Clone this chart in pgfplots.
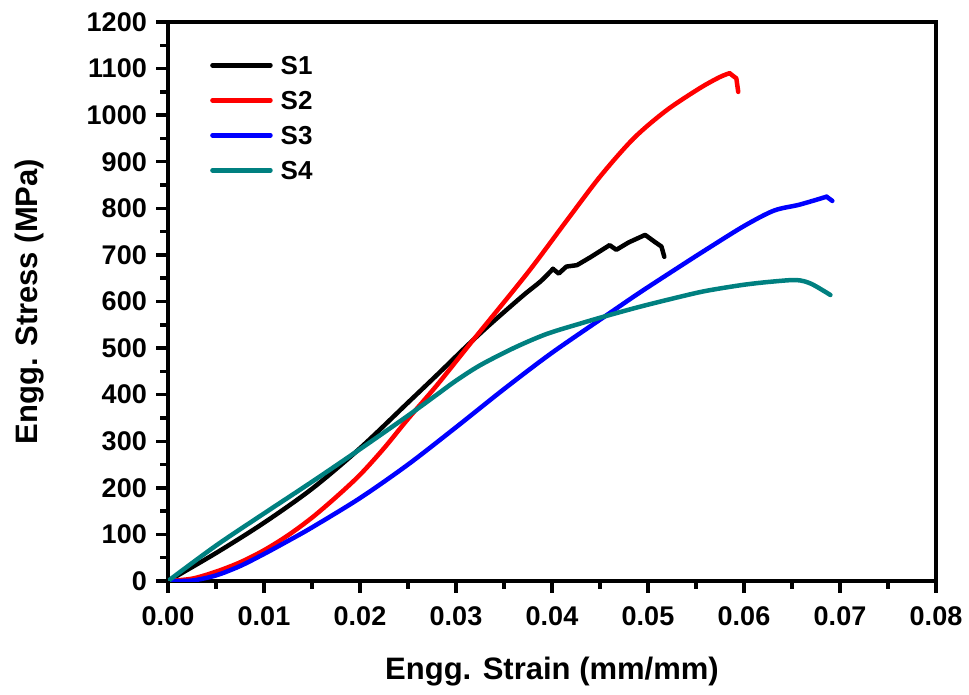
\documentclass[border=0pt]{standalone}
\usepackage{pgfplots}
\pgfplotsset{compat=1.18}
\usepackage{fontspec}
\setmainfont{Liberation Sans}
\definecolor{sfour}{RGB}{0,128,128}
\begin{document}
\begin{tikzpicture}
\begin{axis}[
  width=768pt, height=559pt, scale only axis=true,
  xmin=0, xmax=0.08, ymin=0, ymax=1200,
  xtick={0,0.01,...,0.08}, ytick={0,100,...,1200},
  major tick length=0pt, minor tick length=0pt,
  axis line style={line width=4pt},
  scaled x ticks=false,
  /pgf/number format/assume math mode=true,
  tick label style={font=\bfseries\fontsize{27}{27}\selectfont, inner sep=0pt},
  xticklabel style={anchor=north, yshift=-25pt, /pgf/number format/fixed,
    /pgf/number format/fixed zerofill, /pgf/number format/precision=2},
  yticklabel style={anchor=east, xshift=-21pt, /pgf/number format/1000 sep={}},
  xlabel={Engg. Strain (mm/mm)}, ylabel={Engg. Stress (MPa)},
  label style={font=\bfseries\fontsize{31}{31}\selectfont},
  xlabel style={at={(axis description cs:0.5,-0.177)}, anchor=base, inner sep=0pt},
  ylabel style={at={(axis description cs:-0.18,0.5)}, anchor=center, inner sep=0pt},
  legend style={at={(axis description cs:0.0547,0.939)}, anchor=north west, draw=none, fill=none,
    font=\bfseries\fontsize{26}{26}\selectfont, row sep=17pt, inner sep=0pt,
    nodes={inner sep=0pt, text height=18pt, text depth=0pt},
    /tikz/every odd column/.append style={column sep=8pt}},
  legend cell align=left,
  legend image code/.code={\draw[#1, line width=4.5pt] (0pt,0pt) -- (58pt,0pt);},
  every axis plot/.append style={line width=4.5pt, line join=round, line cap=round},
]
\addplot[black, smooth] coordinates {
(0,0) (0.005,60) (0.010,125) (0.015,198) (0.020,285) (0.025,383) (0.028,442)
(0.031,502) (0.0335,550) (0.037,613) (0.0388,643) (0.0401,670)};
\addlegendentry{S1}
\addplot[red, smooth] coordinates {
(0,0) (0.0025,5) (0.005,20) (0.0075,40) (0.010,66) (0.0125,98) (0.015,136)
(0.0175,180) (0.020,228) (0.0225,285) (0.025,348) (0.028,420) (0.0315,510)
(0.0374,660) (0.0414,770) (0.045,868) (0.0485,950) (0.0519,1010) (0.0554,1058)
(0.0575,1082) (0.0585,1090)};
\addlegendentry{S2}
\addplot[blue, smooth] coordinates {
(0,0) (0.0025,1) (0.005,12) (0.0075,32) (0.010,58) (0.0125,86) (0.015,115)
(0.020,178) (0.025,250) (0.030,330) (0.035,412) (0.040,490) (0.046,575)
(0.0492,620) (0.0533,675) (0.0561,712) (0.060,762) (0.0631,795) (0.0658,808)
(0.0686,825)};
\addlegendentry{S3}
\addplot[sfour, smooth] coordinates {
(0,0) (0.005,76) (0.010,145) (0.015,213) (0.020,283) (0.025,355) (0.028,400)
(0.030,430) (0.0325,463) (0.036,500) (0.0394,530) (0.043,553) (0.046,571)
(0.0492,589) (0.0533,610) (0.0561,623) (0.060,636) (0.0631,643) (0.0655,646)
(0.067,638) (0.069,614)};
\addlegendentry{S4}
\addplot[black, forget plot] coordinates {
(0.0401,670) (0.0407,660) (0.0415,675) (0.0426,678) (0.0440,695) (0.0460,721) (0.0467,711)
(0.0480,727) (0.0497,743) (0.0507,728) (0.0514,718) (0.0517,696)};
\addplot[red, forget plot] coordinates {(0.0585,1090) (0.0592,1079) (0.0594,1050)};
\addplot[blue, forget plot] coordinates {(0.0686,825) (0.0692,816)};
\end{axis}
% outside ticks on the left and bottom axis lines
\begin{scope}[shift={(current axis.south west)}, line width=3.5pt, black]
\foreach \i in {0,...,8} { \draw (\i*96pt,0pt) -- (\i*96pt,-12pt); }
\foreach \i in {0,...,7} { \draw (\i*96pt+48pt,0pt) -- (\i*96pt+48pt,-8pt); }
\foreach \i in {0,...,12} { \draw (0pt,\i*46.5833pt) -- (-12pt,\i*46.5833pt); }
\foreach \i in {0,...,11} { \draw (0pt,\i*46.5833pt+23.2917pt) -- (-8pt,\i*46.5833pt+23.2917pt); }
\end{scope}
\path (current axis.south west) ++(-168pt,-113pt) (current axis.north east) ++(33pt,22pt);
\end{tikzpicture}
\end{document}
